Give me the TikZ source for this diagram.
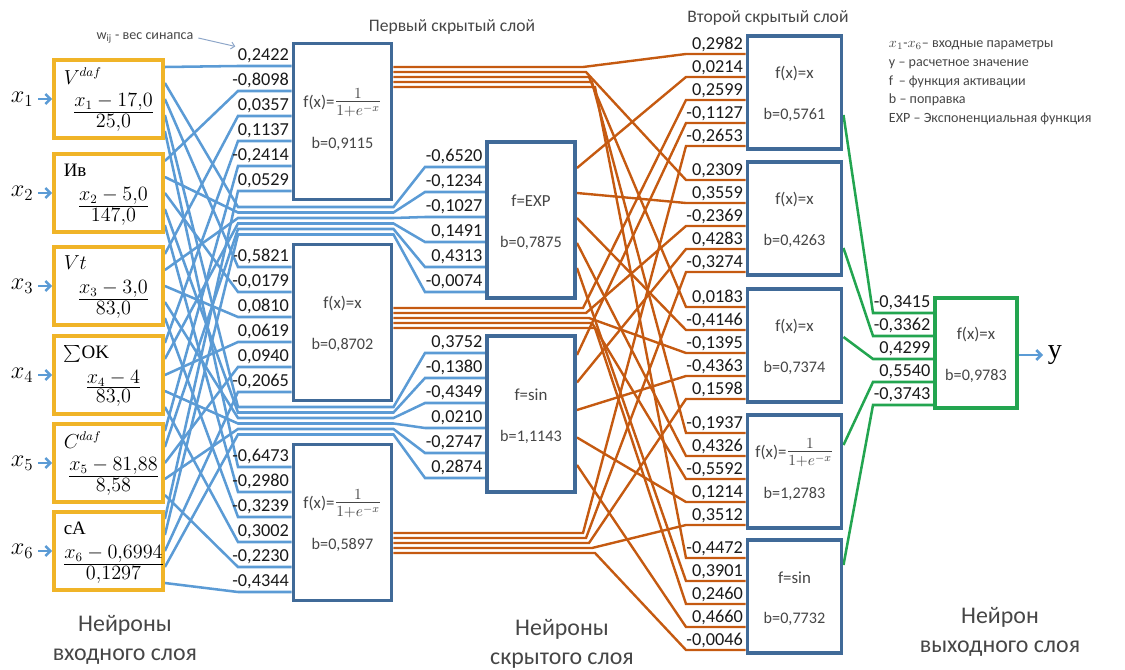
\documentclass[tikz,border=0pt]{standalone}
\usepackage{amsmath}
\usepackage[no-math]{fontspec}
\setmainfont{Carlito}
\newfontfamily\serifcyr{Liberation Serif}
\usetikzlibrary{calc,arrows.meta,backgrounds}

\definecolor{boxgold}{RGB}{240,180,40}
\definecolor{synblue}{RGB}{91,155,213}
\definecolor{cellblue}{RGB}{64,106,152}
\definecolor{synorange}{RGB}{197,90,17}
\definecolor{syngreen}{RGB}{35,165,80}
\definecolor{labgray}{RGB}{70,70,70}
\definecolor{notegray}{RGB}{140,165,200}

\newcommand{\sigmoid}{f(x)={\fontsize{16}{16}\selectfont$\frac{1}{1+e^{-x}}$}}
\newcommand{\sumok}{{\fontsize{12}{12}\selectfont$\smash{\sum}$}\serifcyr OK}

\tikzset{
	inneuron/.style={draw=boxgold, line width=2.8pt, minimum width=2.72cm, minimum height=1.97cm, inner sep=0pt},
	hneuron/.style={draw=cellblue, line width=2.8pt, fill=white, inner sep=0pt, minimum width=2.45cm, minimum height=3.9cm},
	sneuron/.style={hneuron, minimum width=2.2cm},
	gneuron/.style={hneuron, minimum width=2.35cm, minimum height=2.82cm},
	outneuron/.style={draw=syngreen, line width=2.8pt, fill=white, inner sep=0pt, minimum width=2.05cm, minimum height=2.75cm},
	weight/.style={font=\fontsize{13}{13}\selectfont, text=black!90, inner sep=1pt, anchor=south east},
	actfun/.style={font=\fontsize{12}{12}\selectfont, text=labgray, yshift=0.47cm},
	bias/.style={font=\fontsize{11.5}{12}\selectfont, text=labgray, yshift=-0.57cm},
	inname/.style={font=\fontsize{13.5}{14}\selectfont, anchor=west, inner sep=0pt},
	infrac/.style={font=\fontsize{13.5}{14}\selectfont, inner sep=0pt},
	xlabel/.style={font=\fontsize{17}{17}\selectfont},
	blueline/.style={synblue, line width=1.8pt},
	orangeline/.style={synorange, line width=1.7pt},
	greenline/.style={syngreen, line width=1.8pt},
	inarrow/.style={synblue, line width=1.8pt, -{Straight Barb[length=3.5pt,width=7pt]}},
	title/.style={font=\fontsize{12.5}{13}\selectfont, text=labgray},
	legend/.style={font=\fontsize{10}{13.3}\selectfont, text=labgray, align=left, anchor=north west},
	layername/.style={font=\fontsize{17}{20.5}\selectfont, text=labgray, align=center}
}

\begin{document}
\begin{tikzpicture}[x=0.025cm, y=-0.025cm]
	\useasboundingbox (0,0) rectangle (1125,670);

	\foreach \i/\y in {1/99,2/193,3/286,4/375,5/463,6/551}{
		\node[inneuron] (in\i) at (108.5,\y) {};
		\node[xlabel] (x\i) at (22,\y) {$x_\i$};
		\draw[inarrow] (x\i) -- (in\i);
	}
	\foreach \i/\lbl/\numer/\denom in {1/$V^{daf}$/x_1-17{,}0/25{,}0, 2/\serifcyr Ив/x_2-5{,}0/147{,}0,
		3/$Vt$/x_3-3{,}0/83{,}0, 4/\sumok/x_4-4/83{,}0,
		5/$C^{daf}$/x_5-81{,}88/8{,}58, 6/\serifcyr cA/x_6-0{,}6994/0{,}1297}{
		\node[inname] (in\i-name) at ($(in\i.center)+(-45,-23)$) {\lbl};
		\node[infrac] (in\i-frac) at ($(in\i.center)+(5,13)$) {$\frac{\textstyle\numer\vphantom{A}}{\textstyle\vphantom{A}\denom}$};
	}

	\node[hneuron] (h1) at (342.5,121.5) {};
	\node[hneuron] (h2) at (342.5,322.5) {};
	\node[hneuron] (h3) at (342.5,522.5) {};
	\node[sneuron] (h4) at (531,220) {};
	\node[sneuron] (h5) at (531,414) {};
	\foreach \j/\y in {1/92.5,2/218.5,3/345.5,4/471.5,5/596.5}
		\node[gneuron] (g\j) at (794.5,\y) {};
	\node[outneuron] (out) at (976,353) {};

	\foreach \n/\f/\b in {h1/\sigmoid/0{,}9115, h2/f(x)=x/0{,}8702, h3/\sigmoid/0{,}5897,
		h4/f=EXP/0{,}7875, h5/f=sin/1{,}1143, g1/f(x)=x/0{,}5761, g2/f(x)=x/0{,}4263,
		g3/f(x)=x/0{,}7374, g4/\sigmoid/1{,}2783, g5/f=sin/0{,}7732, out/f(x)=x/0{,}9783}{
		\node[actfun] (\n-f) at (\n) {\f};
		\node[bias] (\n-b) at (\n) {b=\b};
	}

	\begin{scope}[on background layer]
	\foreach \i/\wA/\wB/\wC/\wD/\wE in {
		1/0{,}2422/-0{,}6520/-0{,}5821/0{,}3752/-0{,}6473,
		2/-0{,}8098/-0{,}1234/-0{,}0179/-0{,}1380/-0{,}2980,
		3/0{,}0357/-0{,}1027/0{,}0810/-0{,}4349/-0{,}3239,
		4/0{,}1137/0{,}1491/0{,}0619/0{,}0210/0{,}3002,
		5/-0{,}2414/0{,}4313/0{,}0940/-0{,}2747/-0{,}2230,
		6/0{,}0529/-0{,}0074/-0{,}2065/0{,}2874/-0{,}4344}{
		\draw[blueline] ($(in\i.east)+(0,-32)$) -- (238,{41+25*\i}) -- (h1.west |- 0,{41+25*\i}) node[weight] (w1-\i) {\wA};
		\draw[blueline] ($(in\i.east)+(0,-16)$) -- (238,{201.5+5.5*\i}) -- (h1.east |- 0,{201.5+5.5*\i})
			-- (425,{142+25*\i}) -- (h4.west |- 0,{142+25*\i}) node[weight] (w4-\i) {\wB};
		\draw[blueline] (in\i.east) -- (238,{242+25*\i}) -- (h2.west |- 0,{242+25*\i}) node[weight] (w2-\i) {\wC};
		\draw[blueline] ($(in\i.east)+(0,16)$) -- (238,{401.5+5.5*\i}) -- (h2.east |- 0,{401.5+5.5*\i})
			-- (425,{328+25*\i}) -- (h5.west |- 0,{328+25*\i}) node[weight] (w5-\i) {\wD};
		\draw[blueline] ($(in\i.east)+(0,32)$) -- (238,{442+25*\i}) -- (h3.west |- 0,{442+25*\i}) node[weight] (w3-\i) {\wE};
	}
	\foreach \j/\t/\wA/\wB/\wC/\wD/\wE in {
		1/36/0{,}2982/0{,}0214/0{,}2599/-0{,}1127/-0{,}2653,
		2/162/0{,}2309/0{,}3559/-0{,}2369/0{,}4283/-0{,}3274,
		3/289/0{,}0183/-0{,}4146/-0{,}1395/-0{,}4363/0{,}1598,
		4/415/-0{,}1937/0{,}4326/-0{,}5592/0{,}1214/0{,}3512,
		5/540/-0{,}4472/0{,}3901/0{,}2460/0{,}4660/-0{,}0046}{
		\draw[orangeline] (h1.east |- 0,{62+5*\j}) -- ({580+3*\j},{62+5*\j}) -- (686,{\t+18})
			-- (g\j.west |- 0,{\t+18}) node[weight] (v\j-1) {\wA};
		\draw[orangeline] (h4.east |- 0,{143+25*\j}) -- (686,{\t+41})
			-- (g\j.west |- 0,{\t+41}) node[weight] (v\j-2) {\wB};
		\draw[orangeline] (h2.east |- 0,{303+5*\j}) -- ({580+3*\j},{303+5*\j}) -- (686,{\t+64})
			-- (g\j.west |- 0,{\t+64}) node[weight] (v\j-3) {\wC};
		\draw[orangeline] (h5.east |- 0,{327.5+27.5*\j}) -- (686,{\t+87})
			-- (g\j.west |- 0,{\t+87}) node[weight] (v\j-4) {\wD};
		\draw[orangeline] (h3.east |- 0,{528+5*\j}) -- ({580+3*\j},{528+5*\j}) -- (686,{\t+110})
			-- (g\j.west |- 0,{\t+110}) node[weight] (v\j-5) {\wE};
	}
	\foreach \j/\s/\w in {1/115/-0{,}3415, 2/248/-0{,}3362, 3/337/0{,}4299, 4/445/0{,}5540, 5/565/-0{,}3743}
		\draw[greenline] (g\j.east |- 0,\s) -- (873,{290+23*\j}) -- (out.west |- 0,{290+23*\j}) node[weight] (u\j) {\w};
	\end{scope}

	\node[font=\serifcyr\fontsize{20}{20}\selectfont, anchor=west] (yout) at (1043,355) {y};
	\draw[inarrow] (out.east |- yout) -- (yout.west);

	\node[font=\fontsize{10}{10}\selectfont, text=labgray] (wij) at (145,38) {w\textsubscript{ij} - вес синапса};
	\draw[notegray, line width=0.7pt, -{Straight Barb[length=2.5pt,width=5pt]}] (wij.east) -- (w1-1.north west);

	\node[title] (t1) at (452,27) {Первый скрытый слой};
	\node[title] (t2) at (768,18) {Второй скрытый слой};
	\node[legend] (leg) at (884,36) {$x_1$-$x_6$– входные параметры\\y – расчетное значение\\f \,– функция активации\\b – поправка\\EXP – Экспоненциальная функция};

	\node[layername] (l1) at (125,640) {Нейроны\\входного слоя};
	\node[layername] (l2) at (562,644) {Нейроны\\скрытого слоя};
	\node[layername] (l3) at (1000,632) {Нейрон\\выходного слоя};
\end{tikzpicture}
\end{document}
